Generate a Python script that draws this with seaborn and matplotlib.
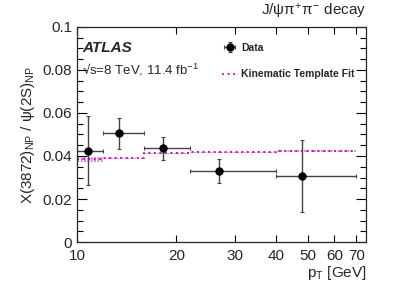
import numpy as np
import matplotlib
matplotlib.use("Agg")
import matplotlib.pyplot as plt
import matplotlib.ticker as ticker
from matplotlib.lines import Line2D
import seaborn as sns

# pT bins [GeV]
bin_lo = [10, 12, 16, 22, 40]
bin_hi = [12, 16, 22, 40, 70]
pt_mean = [10.8, 13.4, 18.2, 26.8, 48.0]

# ratio X(3872)_NP / psi(2S)_NP
ratio = [0.0425, 0.0506, 0.0436, 0.0330, 0.0308]
err_up = [0.0161, 0.0072, 0.0051, 0.0057, 0.0165]
err_dn = [0.0158, 0.0072, 0.0056, 0.0057, 0.0167]

# kinematic template fit (band per bin)
fit_lo = [0.0374, 0.0387, 0.0409, 0.0414, 0.0419]
fit_hi = [0.0397, 0.0392, 0.0416, 0.0419, 0.0429]

sns.set_style("ticks")
plt.rcParams['font.family'] = ['Liberation Sans', 'DejaVu Sans']
plt.rcParams['mathtext.fontset'] = 'custom'
plt.rcParams['mathtext.rm'] = 'Liberation Sans'
plt.rcParams['mathtext.it'] = 'Liberation Sans'
plt.rcParams['hatch.linewidth'] = 1.2

fig = plt.figure(figsize=(4.07, 2.92), dpi=100)
ax = fig.add_axes([0.189, 0.171, 0.711, 0.737])

# fit band
edges = bin_lo + [bin_hi[-1]]
ax.fill_between(edges, fit_lo + [fit_lo[-1]], fit_hi + [fit_hi[-1]], step='post',
                facecolor='none', edgecolor='#dd77dd', hatch='|||||', linewidth=0)
mid_fit = [(a + b) / 2 for a, b in zip(fit_lo, fit_hi)]
ax.step(edges, mid_fit + [mid_fit[-1]], where='post', color='#bb22bb',
        linestyle=':', linewidth=1.5)

# data
xerr = [np.array(pt_mean) - np.array(bin_lo), np.array(bin_hi) - np.array(pt_mean)]
eb = ax.errorbar(pt_mean, ratio, xerr=xerr, yerr=[err_dn, err_up], fmt='o',
                 color='black', markersize=5, ecolor='#444444', elinewidth=1.0,
                 capsize=1.5, capthick=0.8)
sns.scatterplot(x=pt_mean, y=ratio, ax=ax, color='black', s=30, edgecolor='black',
                linewidth=0, zorder=5)

ax.set_xscale('log')
ax.set_xlim(10, 75)
ax.set_ylim(0, 0.1)
ax.xaxis.set_major_locator(ticker.FixedLocator([10, 20, 30, 40, 50, 60, 70]))
ax.xaxis.set_major_formatter(ticker.FixedFormatter(['10', '20', '30', '40', '50', '60', '70']))
ax.xaxis.set_minor_locator(ticker.NullLocator())
ax.yaxis.set_major_locator(ticker.MultipleLocator(0.02))
ax.yaxis.set_minor_locator(ticker.MultipleLocator(0.005))
ax.yaxis.set_major_formatter(ticker.FuncFormatter(lambda v, p: ('%g' % round(v, 3))))

ax.tick_params(which='both', direction='in', top=True, right=True, labelsize=11,
               width=0.8, color='black')
ax.tick_params(which='major', length=7)
ax.tick_params(which='minor', length=4)
ax.tick_params(axis='x', which='major', length=5, pad=5)
for s in ax.spines.values():
    s.set_linewidth(0.9)

ax.set_ylabel(r'X(3872)$_{\rm NP}$ / $\psi$(2S)$_{\rm NP}$', fontsize=11, labelpad=4)
ax.set_xlabel(r'p$_{\rm T}$ [GeV]', fontsize=11, loc='right', labelpad=1)

ax.text(1.0, 1.025, r'J/$\psi\pi^{+}\pi^{-}$ decay', transform=ax.transAxes,
        ha='right', va='bottom', fontsize=11)
ax.text(0.018, 0.9, 'ATLAS', transform=ax.transAxes, fontsize=11, fontweight='bold',
        fontstyle='italic', va='center')
ax.text(0.018, 0.8, '\u221as=8 TeV, 11.4 fb$^{-1}$', transform=ax.transAxes,
        fontsize=9.5, va='center')

handles = [eb, Line2D([], [], color='#cc33cc', linestyle=':', linewidth=1.5)]
leg = ax.legend(handles, ['Data', 'Kinematic Template Fit'], loc='upper left',
                bbox_to_anchor=(0.47, 0.97), frameon=False, labelspacing=1.6,
                handlelength=1.4, handletextpad=0.4, prop={'weight': 'bold', 'size': 7.5})

fig.savefig('out.png', dpi=100)
